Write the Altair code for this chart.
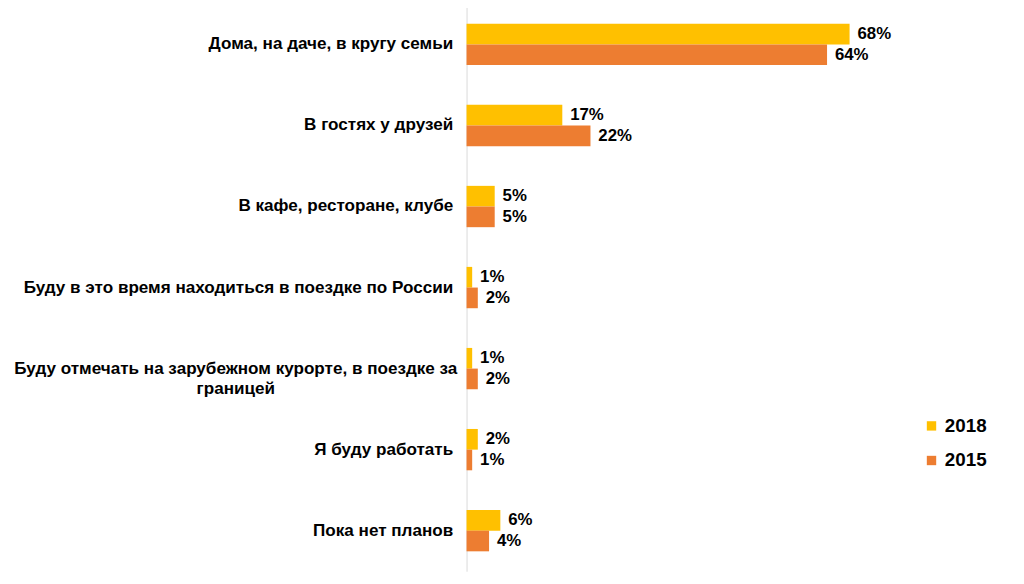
import altair as alt
import pandas as pd

categories = [
    "Дома, на даче, в кругу семьи",
    "В гостях у друзей",
    "В кафе, ресторане, клубе",
    "Буду в это время находиться в поездке по России",
    "Буду отмечать на зарубежном курорте, в поездке за|границей",
    "Я буду работать",
    "Пока нет планов",
]
values_2018 = [68, 17, 5, 1, 1, 2, 6]
values_2015 = [64, 22, 5, 2, 2, 1, 4]
series = ["2018", "2015"]
colors = ["#FFC000", "#ED7D31"]

rows = []
for c, a, b in zip(categories, values_2018, values_2015):
    rows.append({"cat": c, "year": "2018", "value": a})
    rows.append({"cat": c, "year": "2015", "value": b})
df = pd.DataFrame(rows)
df["label"] = df["value"].astype(str) + "%"

FONT = "Liberation Sans"

y_enc = alt.Y(
    "cat:N",
    sort=categories,
    title=None,
    scale=alt.Scale(range=[-7.5, 566.5], paddingInner=0.49, paddingOuter=0.245),
    axis=alt.Axis(
        domainColor="#D9D9D9",
        domainWidth=1,
        ticks=False,
        labelPadding={"condition": {"test": "indexof(datum.value, '|') >= 0", "value": 234}, "value": 14},
        labelAlign={"condition": {"test": "indexof(datum.value, '|') >= 0", "value": "center"}, "value": "right"},
        labelFont=FONT,
        labelFontWeight="bold",
        labelFontSize=17.3,
        labelColor="black",
        labelLimit=0,
        labelExpr="split(datum.label, '|')",
        labelLineHeight=21,
    ),
)
yoff = alt.YOffset("year:N", sort=series, scale=alt.Scale(paddingInner=0))
x_enc = alt.X("value:Q", scale=alt.Scale(domain=[0, 80]), axis=None)

base = alt.Chart(df)

bars = base.mark_bar().encode(
    x=x_enc,
    y=y_enc,
    yOffset=yoff,
    color=alt.Color(
        "year:N",
        scale=alt.Scale(domain=series, range=colors),
        legend=alt.Legend(
            title=None,
            orient="none",
            legendX=461,
            legendY=410,
            padding=0,
            symbolType="square",
            symbolSize=90,
            symbolStrokeWidth=0,
            labelFont=FONT,
            labelFontWeight="bold",
            labelFontSize=19,
            labelColor="black",
            labelOffset=4,
            rowPadding=15,
        ),
    ),
)

text = base.mark_text(
    align="left", baseline="middle", dx=8, font=FONT, fontWeight="bold", fontSize=17, color="black"
).encode(x=x_enc, y=alt.Y("cat:N", sort=categories), yOffset=yoff, text="label:N")

chart = (
    alt.layer(bars, text)
    .properties(
        width=456,
        height=569,
        autosize=alt.AutoSizeParams(type="none"),
        padding={"left": 464, "top": 0, "right": 100, "bottom": 0},
    )
    .configure_view(stroke=None)
)

chart.save("out.html", embed_options={"renderer": "svg", "actions": False})
